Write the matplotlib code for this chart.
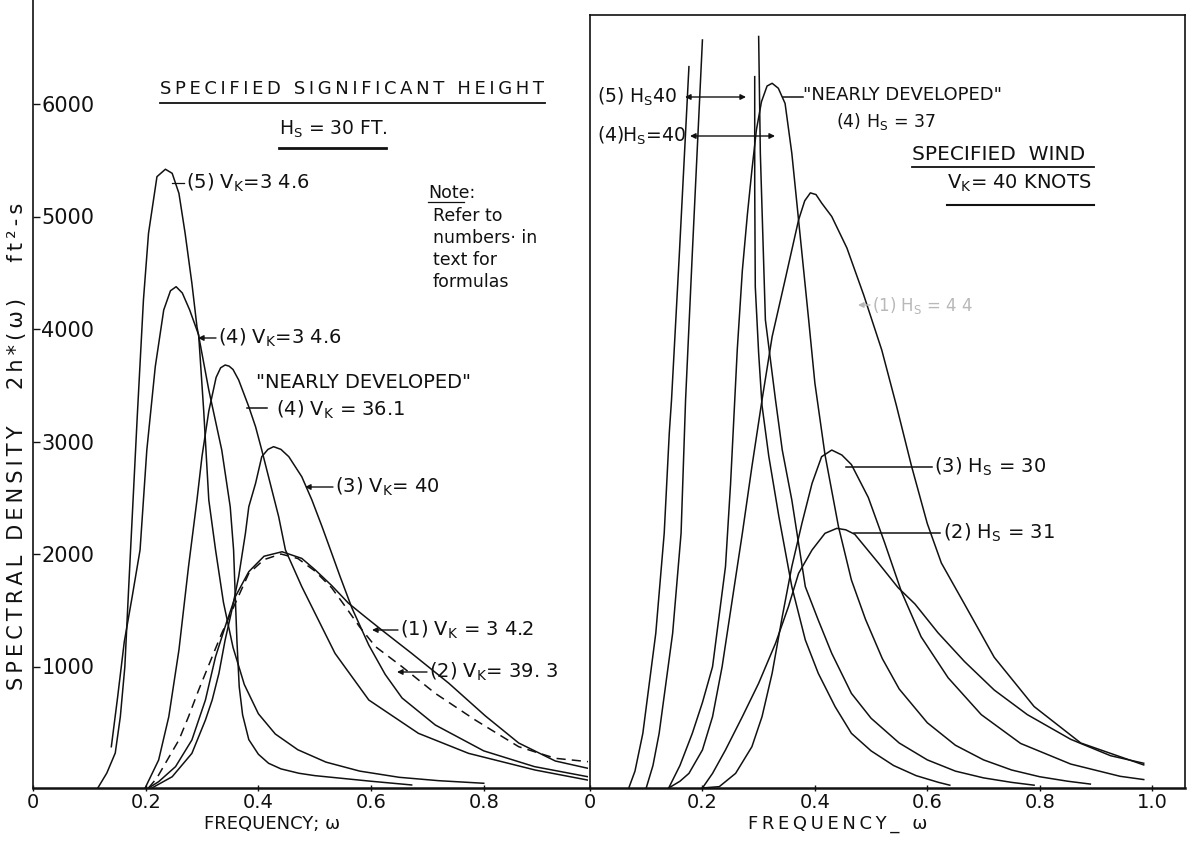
import matplotlib.pyplot as plt
from matplotlib.lines import Line2D
from matplotlib.patches import FancyArrowPatch
from matplotlib.transforms import ScaledTranslation

plt.rcParams['font.family'] = ['DejaVu Sans']
plt.rcParams['mathtext.default'] = 'regular'

W, H = 1193, 849
INK = '#111111'

# ---------- left panel: specified significant height, Hs = 30 ft ----------
l5_x = [0.115, 0.131, 0.146, 0.155, 0.163, 0.170, 0.178, 0.185, 0.196, 0.205, 0.220, 0.235,
        0.247, 0.259, 0.270, 0.282, 0.291, 0.312, 0.335, 0.350, 0.356, 0.359, 0.362, 0.366,
        0.372, 0.383, 0.400, 0.418, 0.440, 0.472, 0.500, 0.548, 0.600, 0.672]
l5_y = [0, 133, 311, 634, 1078, 1800, 2600, 3300, 4338, 4930, 5434, 5500,
        5464, 5286, 4930, 4486, 4100, 3538, 3004, 2500, 2116, 1700, 1300, 900,
        650, 430, 300, 220, 170, 131, 110, 86, 60, 27]

l4_x = [0.139, 0.150, 0.162, 0.176, 0.190, 0.202, 0.217, 0.232, 0.244, 0.254, 0.265, 0.278,
        0.294, 0.303, 0.312, 0.324, 0.338, 0.355, 0.375, 0.400, 0.430, 0.470, 0.520, 0.580,
        0.650, 0.720, 0.800]
l4_y = [367, 800, 1300, 1700, 2116, 3004, 3745, 4249, 4420, 4456, 4400, 4250,
        4027, 3350, 2560, 2116, 1650, 1250, 920, 660, 480, 340, 230, 150,
        95, 65, 42]

lnd_x = [0.199, 0.223, 0.241, 0.259, 0.276, 0.291, 0.300, 0.312, 0.325, 0.333, 0.341, 0.348,
         0.355, 0.365, 0.383, 0.395, 0.406, 0.418, 0.436, 0.448, 0.477, 0.536, 0.596, 0.684,
         0.773, 0.891, 0.985]
lnd_y = [0, 249, 634, 1227, 1967, 2560, 2950, 3350, 3650, 3735, 3760, 3750,
         3720, 3627, 3389, 3211, 3004, 2767, 2412, 2116, 1790, 1197, 782, 486,
         308, 160, 70]

l3_x = [0.211, 0.247, 0.282, 0.306, 0.318, 0.330, 0.341, 0.353, 0.365, 0.377, 0.383, 0.395,
        0.406, 0.417, 0.427, 0.440, 0.454, 0.477, 0.495, 0.513, 0.528, 0.545, 0.566, 0.596,
        0.625, 0.655, 0.714, 0.800, 0.890, 0.985]
l3_y = [0, 100, 308, 604, 782, 1020, 1316, 1582, 1878, 2264, 2500, 2708,
        2945, 3010, 3034, 3010, 2945, 2767, 2560, 2323, 2116, 1880, 1600, 1270,
        1010, 800, 560, 330, 190, 100]

l1_x = [0.205, 0.223, 0.253, 0.282, 0.306, 0.324, 0.341, 0.359, 0.383, 0.410, 0.442, 0.477,
        0.501, 0.530, 0.560, 0.590, 0.619, 0.672, 0.738, 0.803, 0.862, 0.927, 0.985]
l1_y = [0, 56, 190, 427, 782, 1167, 1434, 1700, 1923, 2060, 2100, 2041,
        1938, 1800, 1642, 1520, 1404, 1197, 931, 640, 400, 240, 175]

l2_x = [0.205, 0.220, 0.235, 0.259, 0.276, 0.294, 0.318, 0.335, 0.359, 0.383, 0.410, 0.440,
        0.470, 0.500, 0.530, 0.554, 0.580, 0.608, 0.655, 0.714, 0.785, 0.862, 0.927, 0.985]
l2_y = [0, 90, 220, 427, 634, 871, 1167, 1375, 1642, 1908, 2030, 2080,
        2040, 1930, 1780, 1615, 1430, 1256, 1078, 841, 604, 367, 264, 234]

# ---------- right panel: specified wind, Vk = 40 knots ----------
r5a_x = [0.069, 0.080, 0.094, 0.117, 0.132, 0.141, 0.145, 0.159, 0.176]
r5a_y = [0, 150, 486, 1375, 2264, 3153, 3449, 4753, 6412]
r5b_x = [0.293, 0.293, 0.294, 0.300, 0.306, 0.318, 0.336, 0.359, 0.383, 0.406, 0.436, 0.465,
         0.500, 0.540, 0.580, 0.620, 0.640]
r5b_y = [6323, 5345, 4456, 3864, 3400, 2950, 2412, 1790, 1316, 1020, 723, 486,
         330, 200, 110, 50, 25]

r4a_x = [0.100, 0.112, 0.123, 0.147, 0.162, 0.170, 0.182, 0.200]
r4a_y = [0, 200, 486, 1375, 2264, 3449, 4753, 6649]
r4b_x = [0.300, 0.303, 0.312, 0.330, 0.342, 0.359, 0.383, 0.406, 0.430, 0.465, 0.500, 0.550,
         0.600, 0.650, 0.700, 0.750, 0.790]
r4b_y = [6680, 5642, 4160, 3449, 3004, 2560, 1790, 1493, 1197, 841, 620, 400,
         250, 150, 90, 50, 25]

rnd_x = [0.140, 0.160, 0.182, 0.200, 0.218, 0.241, 0.250, 0.256, 0.262, 0.271, 0.280, 0.288,
         0.296, 0.305, 0.315, 0.324, 0.335, 0.347, 0.359, 0.371, 0.389, 0.400, 0.418, 0.442,
         0.465, 0.490, 0.520, 0.550, 0.600, 0.650, 0.700, 0.750, 0.800, 0.850, 0.890]
rnd_y = [0, 200, 486, 760, 1078, 1968, 2700, 3300, 3900, 4600, 5100, 5493,
         5850, 6100, 6240, 6264, 6220, 6085, 5642, 5049, 4160, 3600, 2963, 2323,
         1849, 1500, 1150, 880, 580, 380, 250, 160, 100, 60, 35]

r1_x = [0.140, 0.160, 0.176, 0.200, 0.218, 0.235, 0.253, 0.271, 0.288, 0.306, 0.324, 0.347,
        0.371, 0.382, 0.392, 0.402, 0.412, 0.430, 0.457, 0.487, 0.519, 0.545, 0.572, 0.600,
        0.625, 0.666, 0.719, 0.790, 0.873, 0.985]
r1_y = [0, 60, 130, 338, 634, 1078, 1671, 2264, 2856, 3449, 4012, 4516,
        5049, 5220, 5290, 5275, 5200, 5080, 4800, 4380, 3893, 3400, 2860, 2350,
        2000, 1636, 1162, 724, 400, 205]

r3_x = [0.200, 0.230, 0.259, 0.288, 0.306, 0.324, 0.342, 0.359, 0.377, 0.395, 0.412, 0.430,
        0.448, 0.465, 0.495, 0.524, 0.554, 0.589, 0.637, 0.696, 0.766, 0.855, 0.943, 0.985]
r3_y = [0, 12, 130, 367, 634, 1020, 1523, 1968, 2353, 2708, 2945, 3004,
        2960, 2875, 2583, 2182, 1745, 1344, 980, 652, 396, 213, 104, 75]

r2_x = [0.200, 0.218, 0.241, 0.271, 0.300, 0.330, 0.353, 0.371, 0.395, 0.418, 0.439, 0.455,
        0.471, 0.513, 0.548, 0.578, 0.619, 0.666, 0.719, 0.778, 0.855, 0.926, 0.985]
r2_y = [0, 130, 338, 634, 931, 1286, 1612, 1908, 2116, 2264, 2308, 2295,
        2255, 2000, 1781, 1636, 1380, 1125, 871, 652, 433, 287, 220]

ytick_vals = [1000, 2000, 3000, 4000, 5000, 6000]
ytick_labels = ['1000', '2000', '3000', '4000', '5000', '6000']
xt_left = [0, 0.2, 0.4, 0.6, 0.8]
xt_left_lab = ['0', '0.2', '0.4', '0.6', '0.8']
xt_right = [0, 0.2, 0.4, 0.6, 0.8, 1.0]
xt_right_lab = ['0', '0.2', '0.4', '0.6', '0.8', '1.0']


def fp(x, y):
    # figure pixel (from top-left) -> figure fraction
    return (x / W, 1 - y / H)


def spaced(s, gap='\u2009'):
    # wide hand-lettering look
    return gap.join(s)


def fline(x1, y1, x2, y2, lw=1.1, color=INK):
    fig.add_artist(Line2D([x1 / W, x2 / W], [1 - y1 / H, 1 - y2 / H],
                          transform=fig.transFigure, color=color, lw=lw))


def ftext(x, y, s, size=14, color=INK, **kw):
    fig.text(x / W, 1 - y / H, s, fontsize=size, color=color,
             ha=kw.pop('ha', 'left'), va=kw.pop('va', 'center'), **kw)


def farrow(x_from, y_from, x_to, y_to, style='-|>', color=INK):
    fig.add_artist(FancyArrowPatch(
        fp(x_from, y_from), fp(x_to, y_to), transform=fig.transFigure,
        arrowstyle=style, color=color, lw=1.0, mutation_scale=8,
        shrinkA=0, shrinkB=0))


fig = plt.figure(figsize=(W / 100, H / 100), dpi=100)

# axes geometry (pixels): baseline at y=788, 112.5 px per 1000 units
ax_l = fig.add_axes([33 / W, (H - 788) / H, 555 / W, 788 / H])
ax_r = fig.add_axes([590 / W, (H - 788) / H, 595 / W, 773 / H])
ax_l.patch.set_visible(False)
ax_r.patch.set_visible(False)

ax_l.set_xlim(0, 0.985)
ax_l.set_ylim(0, 788 / 0.1125)
ax_r.set_xlim(0.0053, 1.0584)
ax_r.set_ylim(0, 773 / 0.1125)

lw = 1.1
for xs, ys in [(l5_x, l5_y), (l4_x, l4_y), (lnd_x, lnd_y), (l3_x, l3_y), (l1_x, l1_y)]:
    ax_l.plot(xs, ys, color=INK, lw=lw)
ax_l.plot(l2_x, l2_y, color=INK, lw=lw, linestyle=(0, (6, 4)))

for xs, ys in [(r5a_x, r5a_y), (r5b_x, r5b_y), (r4a_x, r4a_y), (r4b_x, r4b_y),
               (rnd_x, rnd_y), (r1_x, r1_y), (r3_x, r3_y), (r2_x, r2_y)]:
    ax_r.plot(xs, ys, color=INK, lw=lw)

# spines / ticks
for ax in (ax_l, ax_r):
    for s in ax.spines.values():
        s.set_color(INK)
        s.set_linewidth(1.2)
    ax.spines['bottom'].set_linewidth(1.8)
    ax.tick_params(axis='x', direction='inout', length=5, width=1.0, colors=INK,
                   labelsize=14, pad=1)

ax_l.spines['top'].set_visible(False)
ax_l.spines['right'].set_visible(False)

ax_l.set_xticks(xt_left)
ax_l.set_xticklabels(xt_left_lab)
ax_r.set_xticks(xt_right)
ax_r.set_xticklabels(xt_right_lab)

ax_l.set_yticks(ytick_vals)
ax_l.set_yticklabels(ytick_labels)
ax_l.tick_params(axis='y', direction='in', length=5, width=1.0, colors=INK,
                 labelsize=15, pad=-6)
shift = ScaledTranslation(0, 0.09, fig.dpi_scale_trans)
for lab in ax_l.get_yticklabels():
    lab.set_horizontalalignment('left')
    lab.set_transform(lab.get_transform() + shift)
for t in ax_l.yaxis.get_major_ticks():
    t.tick1line.set_transform(t.tick1line.get_transform() + shift)

ax_r.set_yticks([])

# axis titles
ftext(272, 824, 'FREQUENCY; ω', size=13, ha='center')
ftext(838, 824, spaced('FREQUENCY_ ω'), size=13, ha='center')
ftext(17, 446, spaced('SPECTRAL DENSITY   2h*(ω)   ft²-s'), size=15,
      rotation=90, ha='center')

# ---- left panel annotations ----
ftext(352, 89, spaced('SPECIFIED SIGNIFICANT HEIGHT'), size=13, ha='center')
fline(160, 103, 545, 103, lw=1.3)
ftext(333, 129, 'H$_S$ = 30 FT.', size=13.5, ha='center')
fline(279, 148, 386, 148, lw=2.0)

fline(172, 183, 184, 183, lw=0.9)
ftext(186, 183, '(5) V$_K$=3 4.6', size=14)
ftext(428, 193, 'Note:', size=12.5)
fline(428, 202, 464, 202, lw=0.9)
for i, line in enumerate(['Refer to', 'numbers· in', 'text for', 'formulas']):
    ftext(433, 216 + i * 22, line, size=12.5)

farrow(216, 338, 198, 338)
ftext(218, 338, '(4) V$_K$=3 4.6', size=14)
ftext(256, 382, '"NEARLY DEVELOPED"', size=14)
fline(247, 408, 267, 408)
ftext(276, 410, '(4) V$_K$ = 36.1', size=14)
farrow(333, 487, 305, 487)
ftext(335, 487, '(3) V$_K$= 40', size=14)
farrow(398, 630, 372, 630)
ftext(400, 630, '(1) V$_K$ = 3 4.2', size=14)
farrow(427, 672, 397, 672)
ftext(429, 672, '(2) V$_K$= 39. 3', size=14)

# ---- right panel annotations ----
ftext(597, 97, '(5) H$_S$40', size=13.5)
farrow(685, 97, 746, 97, style='<|-|>')
ftext(597, 136, '(4)H$_S$=40', size=13.5)
farrow(690, 136, 775, 136, style='<|-|>')
fline(783, 97, 803, 97)
ftext(803, 95, '"NEARLY DEVELOPED"', size=13)
ftext(836, 121, '(4) H$_S$ = 37', size=12.5)
ftext(912, 155, 'SPECIFIED  WIND', size=14.5)
fline(912, 167, 1094, 167, lw=1.3)
ftext(947, 183, 'V$_K$= 40 KNOTS', size=14)
fline(947, 205, 1094, 205, lw=1.5)
farrow(870, 305, 858, 305, color='#b8b8b8')
ftext(872, 305, '(1) H$_S$ = 4 4', size=12, color='#b8b8b8')
fline(846, 467, 932, 467)
ftext(934, 467, '(3) H$_S$ = 30', size=14)
fline(854, 533, 940, 533)
ftext(943, 533, '(2) H$_S$ = 31', size=14)

fig.savefig('out.png', dpi=100)
